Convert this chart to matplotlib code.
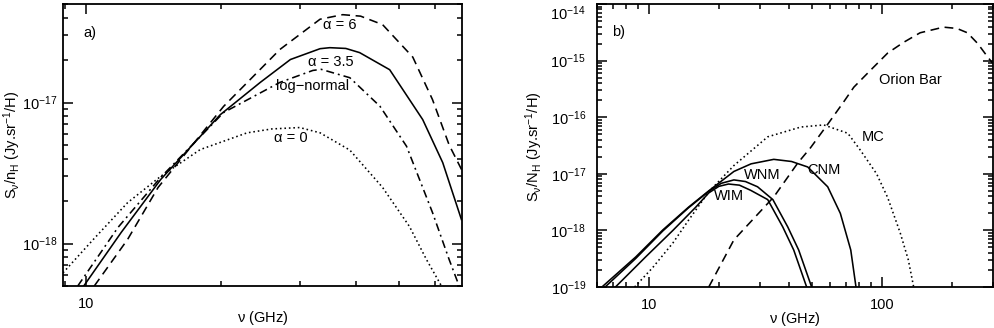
import math
import matplotlib
matplotlib.use("Agg")
import matplotlib.pyplot as plt
from matplotlib.ticker import LogLocator, NullFormatter, FixedLocator, FixedFormatter

# ---- panel a) : size distributions
nu_a0 = [8.9, 10.4, 12.4, 14.7, 18.0, 22.9, 26.0, 30.0, 33.3, 38.8, 45.9, 52.7, 57.5, 62.1]
s_a0 = [6.2e-19, 1.07e-18, 1.95e-18, 3.0e-18, 4.64e-18, 6.1e-18, 6.5e-18, 6.65e-18, 6.1e-18,
        4.6e-18, 2.5e-18, 1.32e-18, 7.7e-19, 5.0e-19]

nu_a35 = [9.9, 12.0, 14.7, 19.95, 24.5, 28.6, 33.3, 35.0, 38.0, 40.8, 47.6, 56.4, 62.5, 68.8]
s_a35 = [5.0e-19, 1.2e-18, 2.85e-18, 8.2e-18, 1.39e-17, 2.02e-17, 2.41e-17, 2.45e-17, 2.42e-17,
         2.26e-17, 1.71e-17, 7.57e-18, 3.75e-18, 1.48e-18]

nu_ln = [9.6, 11.8, 14.7, 20.3, 27.1, 32.1, 33.5, 38.8, 45.3, 51.9, 59.3, 64.6, 68.0]
s_ln = [5.0e-19, 1.3e-18, 2.95e-18, 8.5e-18, 1.39e-17, 1.69e-17, 1.72e-17, 1.5e-17, 9.4e-18,
        4.9e-18, 1.66e-18, 7.7e-19, 5.0e-19]

nu_a6 = [10.45, 12.4, 14.5, 20.3, 27.1, 33.3, 37.4, 41.0, 45.9, 53.6, 59.3, 64.6, 69.0]
s_a6 = [5.0e-19, 1.07e-18, 2.5e-18, 9.4e-18, 2.38e-17, 3.9e-17, 4.2e-17, 4.1e-17, 3.57e-17,
        2.1e-17, 1.05e-17, 5.0e-18, 3.3e-18]

# ---- panel b) : ISM phases
nu_cnm = [6.3, 8.8, 11.5, 14.8, 18.1, 23.2, 27.5, 34.4, 41.0, 48.1, 58.6, 66.4, 73.6, 77.5]
s_cnm = [1e-19, 3.4e-19, 1.02e-18, 2.56e-18, 5.0e-18, 1.1e-17, 1.5e-17, 1.8e-17, 1.65e-17,
         1.32e-17, 5.9e-18, 2.0e-18, 4.5e-19, 1e-19]

nu_wnm = [6.5, 8.8, 11.5, 14.8, 18.1, 20.5, 23.2, 26.0, 29.3, 34.1, 39.5, 44.0, 50.0]
s_wnm = [1e-19, 3.2e-19, 9.8e-19, 2.5e-18, 4.9e-18, 6.8e-18, 7.8e-18, 7.3e-18, 5.9e-18,
         3.5e-18, 1.15e-18, 4.5e-19, 1e-19]

nu_wim = [7.2, 9.7, 12.7, 15.9, 18.1, 20.0, 22.0, 24.5, 27.4, 32.4, 37.6, 41.9, 47.6]
s_wim = [1e-19, 3.4e-19, 1.0e-18, 2.56e-18, 4.6e-18, 6.0e-18, 6.6e-18, 6.3e-18, 5.1e-18,
         3.5e-18, 1.15e-18, 4.5e-19, 1e-19]

nu_mc = [8.7, 10.4, 12.7, 14.8, 18.1, 23.2, 32.4, 44.9, 56.4, 71.5, 81.0, 95.0, 106.0, 120.0, 130.0, 137.0]
s_mc = [1e-19, 2.2e-19, 6e-19, 1.5e-18, 4.8e-18, 1.4e-17, 4.5e-17, 6.7e-17, 7.3e-17, 5.2e-17,
        2.6e-17, 1.0e-17, 3.8e-18, 9e-19, 3e-19, 1e-19]

nu_orion = [18.1, 23.2, 34.4, 43.6, 49.5, 58.6, 68.6, 75.9, 89.6, 106.0, 124.0, 146.0, 184.0,
            210.0, 233.0, 258.0, 285.0, 299.0]
s_orion = [1e-19, 6.8e-19, 3.9e-18, 1.55e-17, 2.9e-17, 7.5e-17, 1.86e-16, 3.4e-16, 6.8e-16,
           1.36e-15, 2.1e-15, 3.1e-15, 3.9e-15, 3.7e-15, 3.1e-15, 2.0e-15, 1.15e-15, 9e-16]

yticks_a = [1e-18, 1e-17]
yticks_b = [1e-19, 1e-18, 1e-17, 1e-16, 1e-15, 1e-14]

plt.rcParams['font.family'] = ['Liberation Sans', 'DejaVu Sans']
plt.rcParams['mathtext.fontset'] = 'custom'
plt.rcParams['mathtext.rm'] = 'Liberation Sans'
plt.rcParams['mathtext.it'] = 'Liberation Sans'
plt.rcParams['mathtext.bf'] = 'Liberation Sans:bold'
fs = 10.5
lw = 1.15
dashed = (0, (5.5, 3.5))
dotted = (0, (1, 1.8))
dashdot = (0, (5, 2.5, 1.2, 2.5))

fig = plt.figure(figsize=(9.95, 3.28), dpi=100)
ax1 = fig.add_axes([63 / 995, 42 / 328, 399 / 995, 282 / 328])
ax2 = fig.add_axes([597 / 995, 41 / 328, 396 / 995, 283 / 328])


def style(ax, ypad, yticks):
    ax.set_xscale('log')
    ax.set_yscale('log')
    ax.tick_params(which='both', direction='in', top=True, right=True, labelsize=fs, width=1.1)
    ax.tick_params(which='major', length=7)
    ax.tick_params(which='minor', length=3.5)
    ax.tick_params(axis='x', which='major', pad=8)
    ax.tick_params(axis='y', which='major', pad=ypad)
    for sp in ax.spines.values():
        sp.set_linewidth(1.3)
    ax.yaxis.set_major_locator(FixedLocator(yticks))
    ax.yaxis.set_major_formatter(FixedFormatter(
        [r'10$^{%d}$' % round(math.log10(t)) for t in yticks]))
    ax.yaxis.set_minor_locator(LogLocator(base=10, subs=range(2, 10), numticks=20))
    ax.yaxis.set_minor_formatter(NullFormatter())
    ax.xaxis.set_minor_locator(LogLocator(base=10, subs=range(2, 10), numticks=20))
    ax.xaxis.set_minor_formatter(NullFormatter())
    ax.set_xlabel(r'$\nu$ (GHz)', fontsize=fs, va='center')
    ax.xaxis.set_label_coords(0.5, -0.113)


style(ax1, 4, yticks_a)
ax1.plot(nu_a6, s_a6, color='black', lw=lw, linestyle=dashed)
ax1.plot(nu_a35, s_a35, color='black', lw=lw)
ax1.plot(nu_ln, s_ln, color='black', lw=lw, linestyle=dashdot)
ax1.plot(nu_a0, s_a0, color='black', lw=lw, linestyle=dotted)
ax1.set_xlim(8.9, 69)
ax1.set_ylim(5e-19, 5e-17)
ax1.xaxis.set_major_locator(FixedLocator([10]))
ax1.xaxis.set_major_formatter(FixedFormatter(['10']))
ax1.set_ylabel(r'S$_\nu$/n$_H$ (Jy.sr$^{-1}$/H)', fontsize=fs, va='center', ha='center')
ax1.yaxis.set_label_coords(-0.128, 0.50)
ax1.text(0.05, 0.897, 'a)', transform=ax1.transAxes, fontsize=fs, va='center')
ax1.text(36.9, 3.57e-17, 'α = 6', fontsize=fs, ha='center', va='center')
ax1.text(35.1, 1.95e-17, 'α = 3.5', fontsize=fs, ha='center', va='center')
ax1.text(32.1, 1.32e-17, 'log−normal', fontsize=fs, ha='center', va='center')
ax1.text(28.6, 5.65e-18, 'α = 0', fontsize=fs, ha='center', va='center')

style(ax2, 8, yticks_b)
ax2.plot(nu_cnm, s_cnm, color='black', lw=lw)
ax2.plot(nu_wnm, s_wnm, color='black', lw=lw)
ax2.plot(nu_wim, s_wim, color='black', lw=lw)
ax2.plot(nu_mc, s_mc, color='black', lw=lw, linestyle=dotted)
ax2.plot(nu_orion, s_orion, color='black', lw=lw, linestyle=dashed)
ax2.set_xlim(6, 300)
ax2.set_ylim(1e-19, 1e-14)
ax2.xaxis.set_major_locator(FixedLocator([10, 100]))
ax2.xaxis.set_major_formatter(FixedFormatter(['10', '100']))
ax2.set_ylabel(r'S$_\nu$/N$_H$ (Jy.sr$^{-1}$/H)', fontsize=fs, va='center', ha='center')
ax2.yaxis.set_label_coords(-0.159, 0.495)
ax2.text(0.038, 0.90, 'b)', transform=ax2.transAxes, fontsize=fs, va='center')
ax2.text(133, 4.6e-16, 'Orion Bar', fontsize=fs, ha='center', va='center')
ax2.text(91.4, 4.5e-17, 'MC', fontsize=fs, ha='center', va='center')
ax2.text(56.5, 1.17e-17, 'CNM', fontsize=fs, ha='center', va='center')
ax2.text(30.8, 9.5e-18, 'WNM', fontsize=fs, ha='center', va='center')
ax2.text(22.0, 4.1e-18, 'WIM', fontsize=fs, ha='center', va='center')

# top label of panel b sits just below its tick, as in the original
fig.canvas.draw()
ax2.yaxis.get_major_ticks()[-1].label1.set_va('top')

fig.savefig('out.png', dpi=100)
